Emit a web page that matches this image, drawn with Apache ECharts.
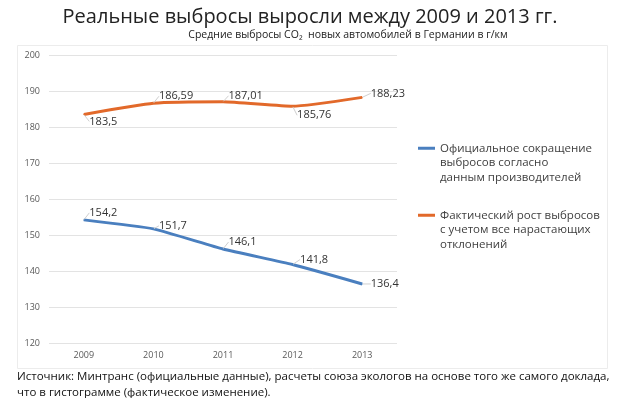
<!DOCTYPE html>
<html>
<head>
<meta charset="utf-8">
<script src="https://cdn.jsdelivr.net/npm/echarts@6/dist/echarts.min.js"></script>
<style>
html,body{margin:0;padding:0;background:#fff;}
#chart{width:620px;height:398px;}
</style>
</head>
<body>
<div id="chart"></div>
<script>
var years = ['2009', '2010', '2011', '2012', '2013'];
var official = [154.2, 151.7, 146.1, 141.8, 136.4];
var actual = [183.5, 186.59, 187.01, 185.76, 188.23];
var nameOfficial = 'Официальное сокращение\nвыбросов согласно\nданным производителей';
var nameActual = 'Фактический рост выбросов\nс учетом все нарастающих\nотклонений';

// сдвиг подписей (dx, dy)
var shiftActual = [[1, 7], [1, -7], [1, -6], [0, 9], [4, -4]];
var shiftOfficial = [[1, -7], [1, -3], [1, -7], [3, -5], [4, 0]];

var FONT = '"Open Sans", sans-serif';
var chart = echarts.init(document.getElementById('chart'));

function fmt(p) {
	return String(p.value).replace('.', ',');
}

function lineSeries(name, data, color, shift) {
	return {
		name: name,
		type: 'line',
		data: data,
		smooth: 0.15,
		symbol: 'circle',
		symbolSize: 1,
		showSymbol: true,
		lineStyle: {color: color, width: 3},
		itemStyle: {color: color},
		label: {
			show: true,
			position: 'right',
			distance: 4,
			formatter: fmt,
			fontFamily: FONT,
			fontSize: 11,
			color: '#333'
		},
		labelLine: {show: true, lineStyle: {color: '#cfcfcf', width: 1}},
		labelLayout: function (p) {
			var s = shift[p.dataIndex];
			return {dx: s[0], dy: s[1]};
		}
	};
}

var option = {
	backgroundColor: '#fff',
	animation: false,
	title: [{
		text: 'Реальные выбросы выросли между 2009 и 2013 гг.',
		left: 'center',
		top: 2,
		textStyle: {fontFamily: FONT, fontSize: 20, fontWeight: 'normal', color: '#222'}
	}, {
		text: 'Средние выбросы CO₂  новых автомобилей в Германии в г/км',
		left: 343,
		top: 25,
		textAlign: 'center',
		textStyle: {fontFamily: FONT, fontSize: 10.5, fontWeight: 'normal', color: '#222'}
	}],
	legend: [{
		data: [nameOfficial],
		orient: 'vertical',
		left: 413,
		top: 107,
		icon: 'rect',
		itemWidth: 17,
		itemHeight: 3,
		formatter: function (n) { return '\n\n' + n; },
		textStyle: {fontFamily: FONT, fontSize: 11.5, color: '#404040', lineHeight: 14.5}
	}, {
		data: [nameActual],
		orient: 'vertical',
		left: 413,
		top: 174,
		icon: 'rect',
		itemWidth: 17,
		itemHeight: 3,
		formatter: function (n) { return '\n\n' + n; },
		textStyle: {fontFamily: FONT, fontSize: 11.5, color: '#404040', lineHeight: 14.5}
	}],
	grid: {left: 49, top: 55, width: 348, height: 288},
	xAxis: {
		type: 'category',
		data: years,
		boundaryGap: true,
		axisLine: {show: false},
		axisTick: {show: false},
		axisLabel: {fontFamily: FONT, fontSize: 9, color: '#595959', margin: 8}
	},
	yAxis: {
		type: 'value',
		min: 120,
		max: 200,
		interval: 10,
		axisLine: {show: false},
		axisTick: {show: false},
		axisLabel: {fontFamily: FONT, fontSize: 9, color: '#595959', margin: 9},
		splitLine: {lineStyle: {color: '#e3e3e3', width: 1}}
	},
	graphic: [{
		type: 'rect',
		shape: {x: 17.5, y: 45.5, width: 590, height: 323},
		style: {fill: 'none', stroke: '#ececec', lineWidth: 1},
		z: -1
	}, {
		type: 'text',
		left: 17,
		top: 369,
		style: {
			text: 'Источник: Минтранс (официальные данные), расчеты союза экологов на основе того же самого доклада,\nчто в гистограмме (фактическое изменение).',
			font: '11.5px "Open Sans", sans-serif',
			fill: '#111',
			lineHeight: 16
		}
	}],
	series: [
		lineSeries(nameOfficial, official, '#4a7fbf', shiftOfficial),
		lineSeries(nameActual, actual, '#e2692a', shiftActual)
	]
};
chart.setOption(option);
window.onresize = chart.resize;
</script>
</body>
</html>
